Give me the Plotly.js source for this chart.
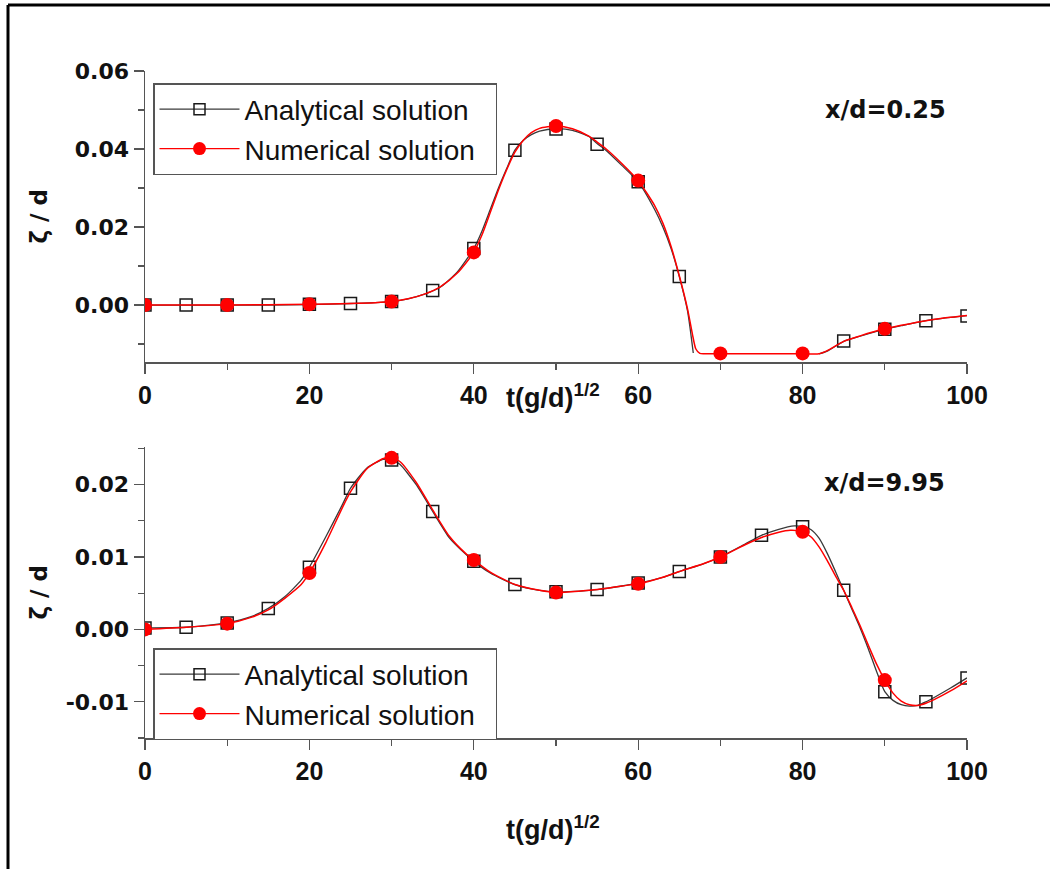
<!DOCTYPE html>
<html>
<head>
<meta charset="utf-8">
<script src="https://cdn.plot.ly/plotly-3.0.1.min.js"></script>
<style>html,body{margin:0;padding:0;background:#fff;}</style>
</head>
<body>
<div id="chart" style="width:1050px;height:869px;"></div>
<script>
// ---------- Top panel (x/d = 0.25) ----------
const topAnaCurveT = [0,5,10,15,20,25,28,30,32,34,36,38,40,41,42,43,44,45,46,47,48,50,52,54,55,56,58,60,62,63,64,65,66,66.7,74,82,83,85,87,90,92,95,97,100];
const topAnaCurveV = [0,0,0,0,0.0001,0.0004,0.0006,0.0009,0.0016,0.0028,0.0047,0.0085,0.0145,0.0190,0.0245,0.0300,0.0350,0.0397,0.0422,0.0437,0.0446,0.0452,0.0448,0.0432,0.0414,0.0398,0.0358,0.0316,0.0245,0.0200,0.0145,0.0073,-0.0015,-0.0123,null,-0.0125,-0.0118,-0.0093,-0.0080,-0.0062,-0.0053,-0.0040,-0.0034,-0.0027];
const topNumCurveT = [0,10,20,25,28,30,32,34,36,38,40,41,42,43,44,45,46,47,48,50,52,54,55,56,58,60,62,63,64,65,66,66.6,67,67.5,68,70,75,80,82,83,85,87,90,92,95,97,100];
const topNumCurveV = [0,0,0.0002,0.0004,0.0006,0.0009,0.0016,0.0028,0.0048,0.0082,0.0135,0.0180,0.0237,0.0295,0.0347,0.0392,0.0422,0.0442,0.0453,0.0459,0.0452,0.0433,0.0418,0.0402,0.0363,0.0319,0.0255,0.0210,0.0150,0.0075,-0.0010,-0.0075,-0.0112,-0.0124,-0.0125,-0.0125,-0.0125,-0.0125,-0.0125,-0.0117,-0.0093,-0.0079,-0.0061,-0.0052,-0.0040,-0.0034,-0.0027];
const topAnaMarkT = [0,5,10,15,20,25,30,35,40,45,50,55,60,65,85,90,95,100];
const topAnaMarkV = [0,0,0,0,0.0002,0.0004,0.0009,0.0037,0.0145,0.0397,0.0451,0.0412,0.0316,0.0073,-0.0092,-0.0062,-0.0040,-0.0028];
const topNumMarkT = [0,10,20,30,40,50,60,70,80,90];
const topNumMarkV = [0,0,0.0002,0.0009,0.0135,0.0459,0.0319,-0.0124,-0.0124,-0.0061];

// ---------- Bottom panel (x/d = 9.95) ----------
const botAnaCurveT = [0,5,10,13,15,17,19,20,22,24,25,27,29,30,31,33,35,37,39,40,42,45,48,50,53,55,58,60,63,65,68,70,73,75,77,79,80,81,82,83,84,85,86,87,88,89,90,91,92,93,94,95,96,98,100];
const botAnaCurveV = [0.0002,0.0003,0.0009,0.0018,0.0029,0.0045,0.0068,0.0086,0.0128,0.0172,0.0195,0.0223,0.0235,0.0234,0.0228,0.0200,0.0163,0.0127,0.0104,0.0094,0.0078,0.0062,0.0054,0.0052,0.0053,0.0055,0.0060,0.0064,0.0072,0.0080,0.0091,0.0100,0.0118,0.0130,0.0138,0.0143,0.0142,0.0138,0.0126,0.0105,0.0080,0.0054,0.0028,0.0002,-0.0027,-0.0058,-0.0086,-0.0098,-0.0104,-0.0106,-0.0105,-0.0100,-0.0094,-0.0081,-0.0067];
const botNumCurveT = [0,5,10,13,15,17,19,20,22,24,25,27,29,30,31,33,35,37,39,40,42,45,48,50,53,55,58,60,63,65,68,70,73,75,77,78.5,80,81,82,83,84,85,86,87,88,89,90,91,92,93,94,95,96,98,100];
const botNumCurveV = [0,0.0003,0.0008,0.0017,0.0027,0.0043,0.0062,0.0078,0.0120,0.0168,0.0190,0.0222,0.0236,0.0237,0.0232,0.0203,0.0165,0.0129,0.0105,0.0096,0.0079,0.0062,0.0054,0.0051,0.0053,0.0055,0.0060,0.0063,0.0072,0.0080,0.0091,0.0100,0.0117,0.0127,0.0134,0.0137,0.0135,0.0128,0.0114,0.0095,0.0074,0.0054,0.0030,0.0005,-0.0022,-0.0048,-0.0070,-0.0088,-0.0099,-0.0104,-0.0105,-0.0102,-0.0097,-0.0085,-0.0071];
const botAnaMarkT = [0,5,10,15,20,25,30,35,40,45,50,55,60,65,70,75,80,85,90,95,100];
const botAnaMarkV = [0.0002,0.0003,0.0009,0.0029,0.0086,0.0195,0.0234,0.0163,0.0094,0.0062,0.0052,0.0055,0.0064,0.0080,0.0100,0.0130,0.0142,0.0054,-0.0086,-0.0100,-0.0067];
const botNumMarkT = [0,10,20,30,40,50,60,70,80,90];
const botNumMarkV = [0,0.0008,0.0078,0.0237,0.0096,0.0051,0.0063,0.0100,0.0135,-0.0070];

// ---------- Tick labels ----------
const xTickVals = [0,20,40,60,80,100];
const xTickText = ['0','20','40','60','80','100'];
const topYTickVals = [0,0.02,0.04,0.06];
const topYTickText = ['0.00','0.02','0.04','0.06'];
const botYTickVals = [-0.01,0,0.01,0.02];
const botYTickText = ['-0.01','0.00','0.01','0.02'];

const seriesNames = ['Analytical solution','Numerical solution'];
const panelLabels = ['x/d=0.25','x/d=9.95'];

const W = 1050, H = 869;
const px = v => v / W;
const py = v => 1 - v / H;

const anaLine = {color:'#3a3a3a', width:1.3, shape:'spline', smoothing:0.6};
const numLine = {color:'#ff0000', width:1.5, shape:'spline', smoothing:0.6};
const anaMarker = {symbol:'square-open', size:12, color:'#1a1a1a', line:{width:1.5, color:'#1a1a1a'}};
const numMarker = {symbol:'circle', size:14, color:'#ff0000', line:{width:0}};

// trailing no-break spaces only pad the legend box to the reference's width
const legendPad = '\u00a0\u00a0';

function panel(xa, ya, leg, aT, aV, nT, nV, amT, amV, nmT, nmV) {
  return [
    {x:aT, y:aV, xaxis:xa, yaxis:ya, mode:'lines', line:anaLine, connectgaps:false, showlegend:false, hoverinfo:'skip'},
    {x:amT, y:amV, xaxis:xa, yaxis:ya, mode:'markers', marker:anaMarker, showlegend:false},
    {x:nT, y:nV, xaxis:xa, yaxis:ya, mode:'lines', line:numLine, showlegend:false, hoverinfo:'skip'},
    {x:nmT, y:nmV, xaxis:xa, yaxis:ya, mode:'markers', marker:numMarker, showlegend:false},
    {x:[null], y:[null], xaxis:xa, yaxis:ya, mode:'lines+markers', name:seriesNames[0], legend:leg,
     line:{color:'#3a3a3a', width:1.3}, marker:{symbol:'square-open', size:11, color:'#1a1a1a', line:{width:1.5,color:'#1a1a1a'}}},
    {x:[null], y:[null], xaxis:xa, yaxis:ya, mode:'lines+markers', name:seriesNames[1] + legendPad, legend:leg,
     line:{color:'#ff0000', width:1.3}, marker:{symbol:'circle', size:13, color:'#ff0000'}}
  ];
}

const data = [].concat(
  panel('x','y','legend', topAnaCurveT, topAnaCurveV, topNumCurveT, topNumCurveV, topAnaMarkT, topAnaMarkV, topNumMarkT, topNumMarkV),
  panel('x2','y2','legend2', botAnaCurveT, botAnaCurveV, botNumCurveT, botNumCurveV, botAnaMarkT, botAnaMarkV, botNumMarkT, botNumMarkV)
);

const axColor = '#555555';
const xDom = [px(145), px(967)];
const topDom = [py(362), py(71)];
const botDom = [py(738), py(447)];
const topRange = [-0.0146, 0.06];
const botRange = [-0.015, 0.0252];

const xTickFont = {family:'Liberation Sans, Arial, sans-serif', size:25, color:'#111', weight:'bold'};
const yTickFont = {family:'DejaVu Sans, sans-serif', size:22, color:'#111', weight:'bold'};

function bottomX(anchor) {
  return {domain:xDom, anchor:anchor, range:[0,100], showgrid:false, zeroline:false,
    showline:true, linecolor:axColor, linewidth:1.5,
    ticks:'outside', ticklen:10, tickwidth:1.3, tickcolor:axColor,
    tickmode:'array', tickvals:xTickVals, ticktext:xTickText, tickfont:xTickFont,
    minor:{tickmode:'linear', tick0:0, dtick:10, ticks:'outside', ticklen:6, tickwidth:1.3, tickcolor:axColor}};
}
function topX(over, anchor) {
  return {domain:xDom, overlaying:over, anchor:anchor, side:'top', range:[0,100], showgrid:false, zeroline:false,
    showline:true, linecolor:axColor, linewidth:1.5, showticklabels:false,
    ticks:'inside', ticklen:10, tickwidth:1.3, tickcolor:axColor, tickmode:'linear', tick0:0, dtick:10};
}
function leftY(dom, anchor, range, tv, tt, minorDt) {
  return {domain:dom, anchor:anchor, range:range, showgrid:false, zeroline:false,
    showline:true, linecolor:axColor, linewidth:1.5,
    ticks:'outside', ticklen:10, tickwidth:1.3, tickcolor:axColor,
    tickmode:'array', tickvals:tv, ticktext:tt, tickfont:yTickFont,
    minor:{tickmode:'linear', tick0:0, dtick:minorDt, ticks:'outside', ticklen:6, tickwidth:1.3, tickcolor:axColor}};
}
function rightY(dom, over, anchor, range, dt) {
  return {domain:dom, overlaying:over, anchor:anchor, side:'right', range:range, showgrid:false, zeroline:false,
    showline:true, linecolor:axColor, linewidth:1.5, showticklabels:false,
    ticks:'inside', ticklen:10, tickwidth:1.3, tickcolor:axColor, tickmode:'linear', tick0:0, dtick:dt};
}

const legendFont = {family:'Liberation Sans, Arial, sans-serif', size:28, color:'#111'};
const titleFontX = {family:'Liberation Sans, Arial, sans-serif', size:27, color:'#111', weight:'bold'};
const titleFontY = {family:'DejaVu Sans, sans-serif', size:23, color:'#111', weight:'bold'};
const labelFont = {family:'DejaVu Sans, sans-serif', size:24, color:'#111', weight:'bold'};

const legendBase = {xanchor:'left', yanchor:'top', bgcolor:'#fff', bordercolor:axColor, borderwidth:1.5,
  font:legendFont, itemwidth:80, tracegroupgap:0};

const layout = {
  width:W, height:H,
  margin:{l:0, r:0, t:0, b:0},
  paper_bgcolor:'#fff', plot_bgcolor:'#fff',
  xaxis: bottomX('y'),
  yaxis: leftY(topDom, 'x', topRange, topYTickVals, topYTickText, 0.01),
  xaxis3: topX('x', 'y'),
  yaxis3: rightY(topDom, 'y', 'x', topRange, 0.01),
  xaxis2: bottomX('y2'),
  yaxis2: leftY(botDom, 'x2', botRange, botYTickVals, botYTickText, 0.005),
  xaxis4: topX('x2', 'y2'),
  yaxis4: rightY(botDom, 'y2', 'x2', botRange, 0.005),
  legend: Object.assign({x:px(153), y:py(83)}, legendBase),
  legend2: Object.assign({x:px(153), y:py(648)}, legendBase),
  annotations: [
    {xref:'paper', yref:'paper', x:px(948), y:py(110), xanchor:'right', yanchor:'middle', text:panelLabels[0], showarrow:false, font:labelFont},
    {xref:'paper', yref:'paper', x:px(947), y:py(483), xanchor:'right', yanchor:'middle', text:panelLabels[1], showarrow:false, font:labelFont},
    {xref:'paper', yref:'paper', x:px(553), y:py(396), xanchor:'center', yanchor:'middle', text:'t(g/d)<sup>1/2</sup>', showarrow:false, font:titleFontX},
    {xref:'paper', yref:'paper', x:px(553), y:py(828), xanchor:'center', yanchor:'middle', text:'t(g/d)<sup>1/2</sup>', showarrow:false, font:titleFontX},
    {xref:'paper', yref:'paper', x:px(38), y:py(216.5), xanchor:'center', yanchor:'middle', text:'ζ / d', textangle:-90, showarrow:false, font:titleFontY},
    {xref:'paper', yref:'paper', x:px(38), y:py(592.5), xanchor:'center', yanchor:'middle', text:'ζ / d', textangle:-90, showarrow:false, font:titleFontY}
  ],
  shapes: [
    {type:'line', xref:'paper', yref:'paper', x0:px(8), x1:1, y0:py(5), y1:py(5), line:{color:'#000', width:3}},
    {type:'line', xref:'paper', yref:'paper', x0:px(8), x1:px(8), y0:0, y1:py(5), line:{color:'#000', width:3}}
  ]
};

Plotly.newPlot('chart', data, layout, {staticPlot:true, displayModeBar:false});
</script>
</body>
</html>
